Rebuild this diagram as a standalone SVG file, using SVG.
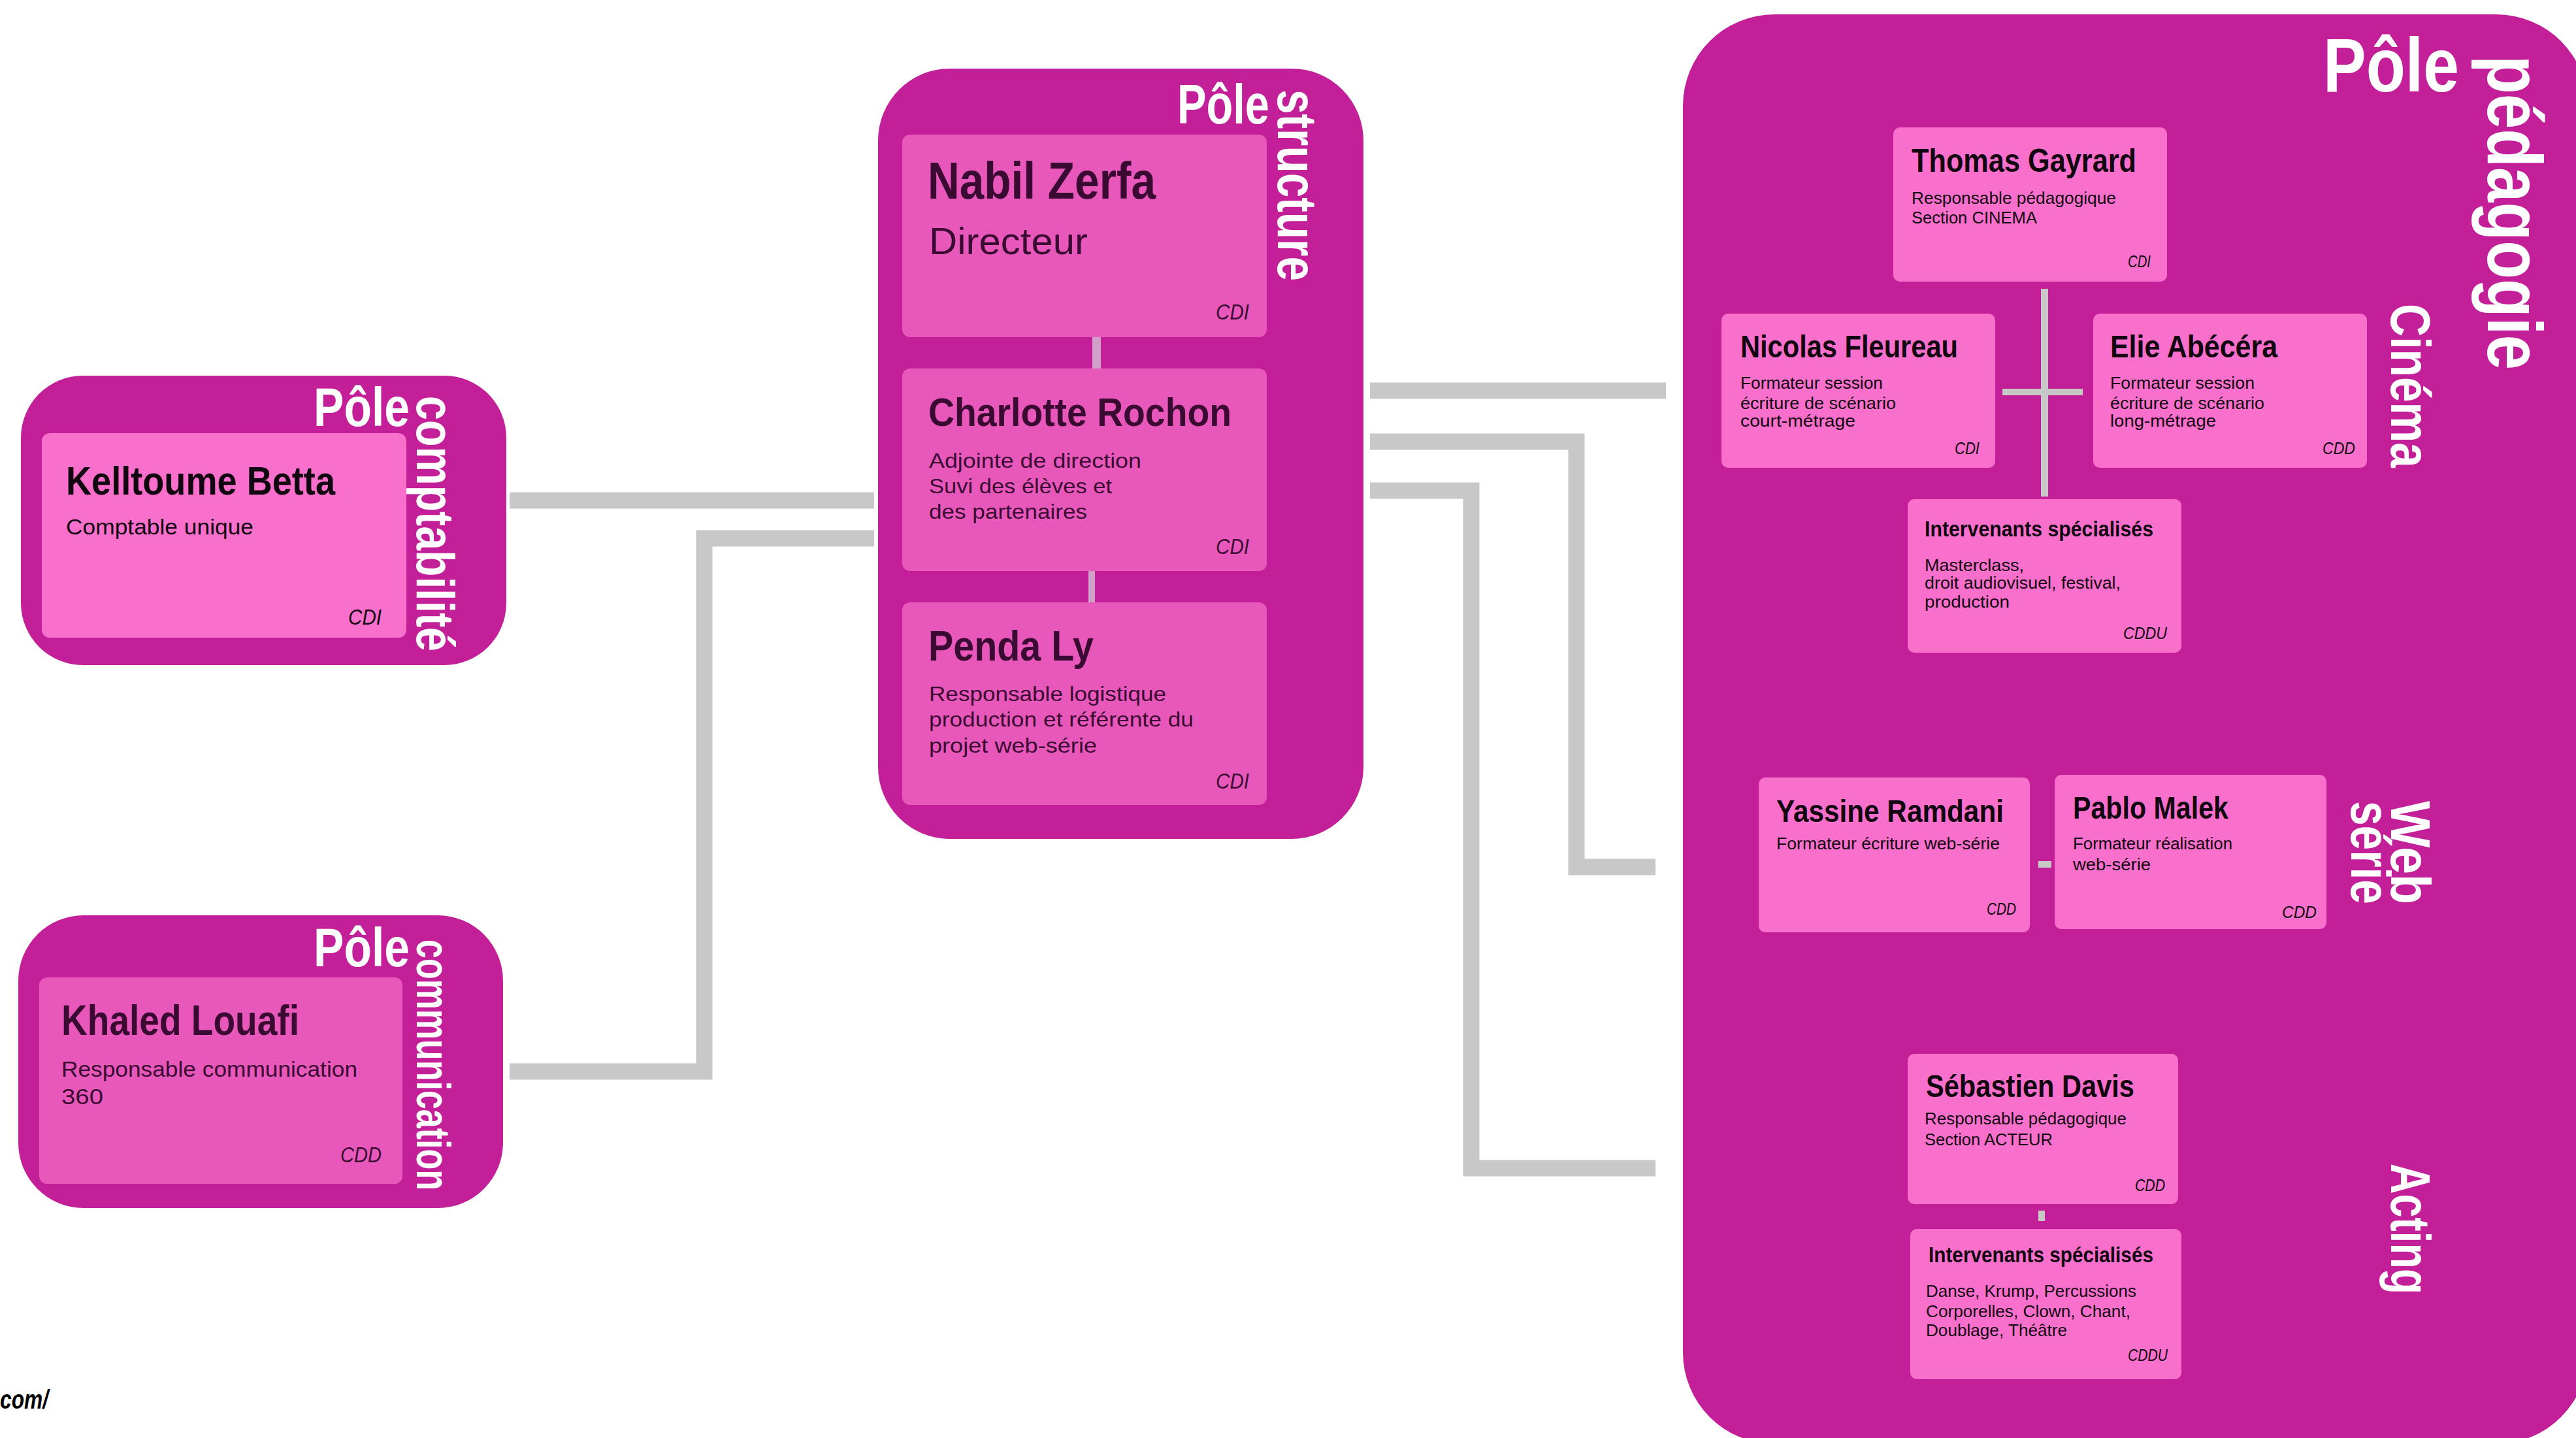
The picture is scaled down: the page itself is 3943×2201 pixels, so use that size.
<svg xmlns="http://www.w3.org/2000/svg" width="3943" height="2201" viewBox="0 0 3943 2201">
<style>
.bg{fill:#ffffff}
.panel{fill:#c21f98}
.boxa{fill:#e858ba}
.boxb{fill:#f870cc}
.conn{stroke:#c8c8c8;stroke-width:25;fill:none;stroke-linejoin:miter;stroke-linecap:butt}
.inA{fill:#d0a0c8}
.inB{fill:#c8c8c8}
text{font-family:"Liberation Sans",Arial,sans-serif}
.lbl{font-weight:bold;fill:#ffffff}
.nm{font-weight:bold}
.ct{font-style:italic}
.dk{fill:#3b0a33}
.bk{fill:#120610}
</style>
<rect class="bg" x="0" y="0" width="3943" height="2201"/>

<g id="connectors">
  <path class="conn" d="M780 766 H1338"/>
  <path class="conn" d="M780 1640 H1078 V824 H1338"/>
  <path class="conn" d="M2097 598 H2550"/>
  <path class="conn" d="M2097 676 H2413 V1327 H2534"/>
  <path class="conn" d="M2097 751 H2252 V1788 H2534"/>
</g>

<g id="pole-comptabilite">
  <rect class="panel" x="32" y="575" width="743" height="443" rx="95" ry="95"/>
  <text class="lbl" x="480" y="652" font-size="84" textLength="147" lengthAdjust="spacingAndGlyphs">Pôle</text>
  <text class="lbl" transform="translate(638 606) rotate(90)" font-size="82" textLength="391" lengthAdjust="spacingAndGlyphs">comptabilité</text>
  <g id="kelltoume-betta">
    <rect class="boxb" x="64" y="663" width="558" height="313" rx="12"/>
    <text class="nm bk" x="101" y="757" font-size="62" textLength="412" lengthAdjust="spacingAndGlyphs">Kelltoume Betta</text>
    <text class="bk" x="101" y="818" font-size="33" textLength="287" lengthAdjust="spacingAndGlyphs">Comptable unique</text>
    <text class="ct bk" x="533" y="956" font-size="33" textLength="51" lengthAdjust="spacingAndGlyphs">CDI</text>
  </g>
</g>

<g id="pole-communication">
  <rect class="panel" x="28" y="1401" width="742" height="448" rx="100" ry="100"/>
  <text class="lbl" x="480" y="1479" font-size="84" textLength="147" lengthAdjust="spacingAndGlyphs">Pôle</text>
  <text class="lbl" transform="translate(638 1438) rotate(90)" font-size="72" textLength="384" lengthAdjust="spacingAndGlyphs">communication</text>
  <g id="khaled-louafi">
    <rect class="boxa" x="60" y="1496" width="556" height="316" rx="12"/>
    <text class="nm dk" x="94" y="1584" font-size="64" textLength="364" lengthAdjust="spacingAndGlyphs">Khaled Louafi</text>
    <text class="dk" x="94" y="1648" font-size="33" textLength="453" lengthAdjust="spacingAndGlyphs">Responsable communication</text>
    <text class="dk" x="94" y="1690" font-size="33" textLength="64" lengthAdjust="spacingAndGlyphs">360</text>
    <text class="ct dk" x="521" y="1779" font-size="33" textLength="63" lengthAdjust="spacingAndGlyphs">CDD</text>
  </g>
</g>

<g id="pole-structure">
  <rect class="panel" x="1344" y="105" width="743" height="1179" rx="110" ry="110"/>
  <text class="lbl" x="1802" y="189" font-size="85" textLength="141" lengthAdjust="spacingAndGlyphs">Pôle</text>
  <text class="lbl" transform="translate(1956 137) rotate(90)" font-size="86" textLength="293" lengthAdjust="spacingAndGlyphs">structure</text>
  <rect class="inA" x="1672" y="516" width="13" height="48"/>
  <rect class="inA" x="1666" y="874" width="10" height="48"/>
  <g id="nabil-zerfa">
    <rect class="boxa" x="1381" y="206" width="558" height="310" rx="12"/>
    <text class="nm dk" x="1420" y="304" font-size="80" textLength="349" lengthAdjust="spacingAndGlyphs">Nabil Zerfa</text>
    <text class="dk" x="1422" y="389" font-size="57" textLength="243" lengthAdjust="spacingAndGlyphs">Directeur</text>
    <text class="ct dk" x="1861" y="489" font-size="33" textLength="51" lengthAdjust="spacingAndGlyphs">CDI</text>
  </g>
  <g id="charlotte-rochon">
    <rect class="boxa" x="1381" y="564" width="558" height="310" rx="12"/>
    <text class="nm dk" x="1421" y="652" font-size="62" textLength="464" lengthAdjust="spacingAndGlyphs">Charlotte Rochon</text>
    <text class="dk" x="1422" y="716" font-size="32" textLength="325" lengthAdjust="spacingAndGlyphs">Adjointe de direction</text>
    <text class="dk" x="1422" y="755" font-size="32" textLength="280" lengthAdjust="spacingAndGlyphs">Suvi des élèves et</text>
    <text class="dk" x="1422" y="794" font-size="32" textLength="242" lengthAdjust="spacingAndGlyphs">des partenaires</text>
    <text class="ct dk" x="1861" y="848" font-size="33" textLength="51" lengthAdjust="spacingAndGlyphs">CDI</text>
  </g>
  <g id="penda-ly">
    <rect class="boxa" x="1381" y="922" width="558" height="310" rx="12"/>
    <text class="nm dk" x="1421" y="1011" font-size="65" textLength="253" lengthAdjust="spacingAndGlyphs">Penda Ly</text>
    <text class="dk" x="1422" y="1073" font-size="32" textLength="363" lengthAdjust="spacingAndGlyphs">Responsable logistique</text>
    <text class="dk" x="1422" y="1112" font-size="32" textLength="405" lengthAdjust="spacingAndGlyphs">production et référente du</text>
    <text class="dk" x="1422" y="1152" font-size="32" textLength="257" lengthAdjust="spacingAndGlyphs">projet web-série</text>
    <text class="ct dk" x="1861" y="1207" font-size="33" textLength="51" lengthAdjust="spacingAndGlyphs">CDI</text>
  </g>
</g>

<g id="pole-pedagogie">
  <rect class="panel" x="2576" y="22" width="1385" height="2188" rx="140" ry="140"/>
  <text class="lbl" x="3556" y="140" font-size="116" textLength="208" lengthAdjust="spacingAndGlyphs">Pôle</text>
  <text class="lbl" transform="translate(3808 85) rotate(90)" font-size="118" textLength="481" lengthAdjust="spacingAndGlyphs">pédagogie</text>
  <text class="lbl" transform="translate(3660 465) rotate(90)" font-size="85" textLength="251" lengthAdjust="spacingAndGlyphs">Cinéma</text>
  <text class="lbl" transform="translate(3660 1226) rotate(90)" font-size="85" textLength="158" lengthAdjust="spacingAndGlyphs">Web</text>
  <text class="lbl" transform="translate(3599 1226) rotate(90)" font-size="85" textLength="158" lengthAdjust="spacingAndGlyphs">série</text>
  <text class="lbl" transform="translate(3660 1781) rotate(90)" font-size="85" textLength="200" lengthAdjust="spacingAndGlyphs">Acting</text>

  <rect class="inB" x="3124" y="442" width="11" height="318"/>
  <rect class="inB" x="3065" y="595" width="123" height="10"/>
  <rect class="inB" x="3120" y="1318" width="20" height="10"/>
  <rect class="inB" x="3120" y="1853" width="10" height="16"/>

  <g id="thomas-gayrard">
    <rect class="boxb" x="2898" y="195" width="419" height="236" rx="10"/>
    <text class="nm bk" x="2926" y="263" font-size="50" textLength="344" lengthAdjust="spacingAndGlyphs">Thomas Gayrard</text>
    <text class="bk" x="2926" y="312" font-size="26" textLength="313" lengthAdjust="spacingAndGlyphs">Responsable pédagogique</text>
    <text class="bk" x="2926" y="342" font-size="26" textLength="192" lengthAdjust="spacingAndGlyphs">Section CINEMA</text>
    <text class="ct bk" x="3257" y="409" font-size="26" textLength="35" lengthAdjust="spacingAndGlyphs">CDI</text>
  </g>
  <g id="nicolas-fleureau">
    <rect class="boxb" x="2635" y="480" width="419" height="236" rx="10"/>
    <text class="nm bk" x="2664" y="547" font-size="48" textLength="333" lengthAdjust="spacingAndGlyphs">Nicolas Fleureau</text>
    <text class="bk" x="2664" y="595" font-size="26" textLength="218" lengthAdjust="spacingAndGlyphs">Formateur session</text>
    <text class="bk" x="2664" y="626" font-size="26" textLength="238" lengthAdjust="spacingAndGlyphs">écriture de scénario</text>
    <text class="bk" x="2664" y="653" font-size="26" textLength="176" lengthAdjust="spacingAndGlyphs">court-métrage</text>
    <text class="ct bk" x="2992" y="695" font-size="26" textLength="38" lengthAdjust="spacingAndGlyphs">CDI</text>
  </g>
  <g id="elie-abecera">
    <rect class="boxb" x="3204" y="480" width="419" height="236" rx="10"/>
    <text class="nm bk" x="3230" y="547" font-size="48" textLength="256" lengthAdjust="spacingAndGlyphs">Elie Abécéra</text>
    <text class="bk" x="3230" y="595" font-size="26" textLength="221" lengthAdjust="spacingAndGlyphs">Formateur session</text>
    <text class="bk" x="3230" y="626" font-size="26" textLength="236" lengthAdjust="spacingAndGlyphs">écriture de scénario</text>
    <text class="bk" x="3230" y="653" font-size="26" textLength="162" lengthAdjust="spacingAndGlyphs">long-métrage</text>
    <text class="ct bk" x="3555" y="695" font-size="26" textLength="50" lengthAdjust="spacingAndGlyphs">CDD</text>
  </g>
  <g id="intervenants-cinema">
    <rect class="boxb" x="2920" y="764" width="419" height="235" rx="10"/>
    <text class="nm bk" x="2946" y="821" font-size="34" textLength="350" lengthAdjust="spacingAndGlyphs">Intervenants spécialisés</text>
    <text class="bk" x="2946" y="874" font-size="26" textLength="152" lengthAdjust="spacingAndGlyphs">Masterclass,</text>
    <text class="bk" x="2946" y="901" font-size="26" textLength="300" lengthAdjust="spacingAndGlyphs">droit audiovisuel, festival,</text>
    <text class="bk" x="2946" y="930" font-size="26" textLength="130" lengthAdjust="spacingAndGlyphs">production</text>
    <text class="ct bk" x="3250" y="978" font-size="26" textLength="67" lengthAdjust="spacingAndGlyphs">CDDU</text>
  </g>
  <g id="yassine-ramdani">
    <rect class="boxb" x="2692" y="1190" width="415" height="237" rx="10"/>
    <text class="nm bk" x="2719" y="1258" font-size="48" textLength="348" lengthAdjust="spacingAndGlyphs">Yassine Ramdani</text>
    <text class="bk" x="2719" y="1300" font-size="26" textLength="342" lengthAdjust="spacingAndGlyphs">Formateur écriture web-série</text>
    <text class="ct bk" x="3041" y="1400" font-size="26" textLength="45" lengthAdjust="spacingAndGlyphs">CDD</text>
  </g>
  <g id="pablo-malek">
    <rect class="boxb" x="3145" y="1186" width="416" height="236" rx="10"/>
    <text class="nm bk" x="3173" y="1253" font-size="48" textLength="238" lengthAdjust="spacingAndGlyphs">Pablo Malek</text>
    <text class="bk" x="3173" y="1300" font-size="26" textLength="244" lengthAdjust="spacingAndGlyphs">Formateur réalisation</text>
    <text class="bk" x="3173" y="1332" font-size="26" textLength="119" lengthAdjust="spacingAndGlyphs">web-série</text>
    <text class="ct bk" x="3493" y="1405" font-size="26" textLength="53" lengthAdjust="spacingAndGlyphs">CDD</text>
  </g>
  <g id="sebastien-davis">
    <rect class="boxb" x="2920" y="1613" width="414" height="230" rx="10"/>
    <text class="nm bk" x="2948" y="1679" font-size="48" textLength="319" lengthAdjust="spacingAndGlyphs">Sébastien Davis</text>
    <text class="bk" x="2946" y="1721" font-size="26" textLength="309" lengthAdjust="spacingAndGlyphs">Responsable pédagogique</text>
    <text class="bk" x="2946" y="1753" font-size="26" textLength="196" lengthAdjust="spacingAndGlyphs">Section ACTEUR</text>
    <text class="ct bk" x="3268" y="1823" font-size="26" textLength="46" lengthAdjust="spacingAndGlyphs">CDD</text>
  </g>
  <g id="intervenants-acting">
    <rect class="boxb" x="2924" y="1881" width="415" height="230" rx="10"/>
    <text class="nm bk" x="2952" y="1932" font-size="34" textLength="344" lengthAdjust="spacingAndGlyphs">Intervenants spécialisés</text>
    <text class="bk" x="2948" y="1985" font-size="26" textLength="322" lengthAdjust="spacingAndGlyphs">Danse, Krump, Percussions</text>
    <text class="bk" x="2948" y="2016" font-size="26" textLength="313" lengthAdjust="spacingAndGlyphs">Corporelles, Clown, Chant,</text>
    <text class="bk" x="2948" y="2045" font-size="26" textLength="216" lengthAdjust="spacingAndGlyphs">Doublage, Théâtre</text>
    <text class="ct bk" x="3257" y="2083" font-size="26" textLength="61" lengthAdjust="spacingAndGlyphs">CDDU</text>
  </g>
</g>

<text x="0" y="2156" font-size="40" font-weight="bold" font-style="italic" fill="#000000" textLength="74" lengthAdjust="spacingAndGlyphs">com/</text>
</svg>
